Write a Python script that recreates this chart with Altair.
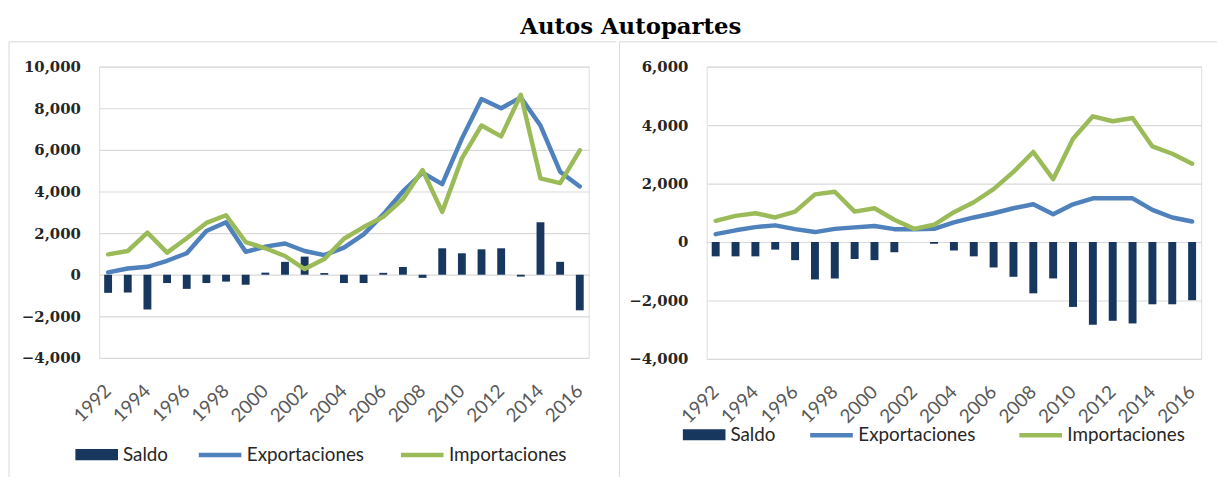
import altair as alt
import pandas as pd

years = [str(y) for y in range(1992, 2017)]
tick_years = [str(y) for y in range(1992, 2017, 2)]
series_names = ["Saldo", "Exportaciones", "Importaciones"]

left_saldo = [-870, -860, -1670, -400, -680, -400, -330, -480, 100, 620, 870, 80, -400,
              -400, 90, 370, -150, 1270, 1030, 1220, 1270, -90, 2520, 620, -1710]
left_exp = [110, 300, 380, 670, 1030, 2100, 2520, 1100, 1350, 1500, 1140, 940, 1300,
            1940, 2900, 4000, 4900, 4350, 6540, 8440, 8000, 8520, 7170, 4950, 4240]
left_imp = [980, 1140, 2020, 1060, 1750, 2490, 2860, 1570, 1270, 900, 270, 750, 1730,
            2290, 2780, 3630, 5030, 3020, 5590, 7170, 6650, 8650, 4630, 4400, 5980]

right_saldo = [-490, -490, -490, -260, -620, -1280, -1245, -580, -620, -350, 0, -60, -290,
               -490, -870, -1190, -1755, -1245, -2220, -2830, -2695, -2785, -2130, -2130, -1990]
right_exp = [270, 400, 510, 570, 440, 340, 450, 500, 550, 440, 440, 450, 670,
             840, 985, 1155, 1290, 950, 1290, 1495, 1495, 1495, 1100, 840, 700]
right_imp = [725, 895, 985, 840, 1040, 1630, 1720, 1040, 1155, 760, 450, 590, 1020,
             1360, 1810, 2400, 3080, 2150, 3530, 4300, 4130, 4240, 3270, 3020, 2680]

left_ticks = [-4000, -2000, 0, 2000, 4000, 6000, 8000, 10000]
right_ticks = [-4000, -2000, 0, 2000, 4000, 6000]

NAVY = "#17375E"
BLUE = "#4F81BD"
GREEN = "#9BBB59"
GRID = "#D9D9D9"
FRAME = "#D9D9D9"


def panel(saldo, exp, imp, ticks, w, h, frame_left, frame_right, legend_y, leg2_x, col_pad):
    bars_df = pd.DataFrame({"year": years, "value": saldo, "serie": series_names[0]})
    lines_df = pd.concat([
        pd.DataFrame({"year": years, "value": exp, "serie": series_names[1]}),
        pd.DataFrame({"year": years, "value": imp, "serie": series_names[2]}),
    ])
    x = alt.X(
        "year:O",
        title=None,
        scale=alt.Scale(paddingInner=0.6, paddingOuter=0.255),
        axis=alt.Axis(
            values=tick_years, labelAngle=315, labelAlign="right", labelBaseline="middle",
            labelFont="Lato", labelFontSize=19, labelColor="#595959", labelPadding=30,
            domain=False, ticks=False, tickSize=0, grid=False,
        ),
    )
    y = alt.Y(
        "value:Q",
        title=None,
        scale=alt.Scale(domain=[ticks[0], ticks[-1]], nice=False, zero=False),
        axis=alt.Axis(
            values=ticks, format=",.0f", labelFont="DejaVu Serif", labelFontWeight="bold",
            labelFontSize=15, labelColor="#262626", labelPadding=19, domain=False,
            ticks=False, tickSize=0, grid=True, gridColor=GRID, gridWidth=1.2,
        ),
    )
    one = alt.Data(values=[{}])
    rules = [
        alt.Chart(one).mark_rule(color=FRAME, strokeWidth=1).encode(
            x=alt.value(frame_left), y=alt.value(-25), y2=alt.value(414)),
        alt.Chart(one).mark_rule(color=FRAME, strokeWidth=1).encode(
            x=alt.value(frame_left), x2=alt.value(frame_right), y=alt.value(-25)),
    ]
    bars = alt.Chart(bars_df).mark_bar().encode(
        x=x, y=y,
        fill=alt.Fill("serie:N", scale=alt.Scale(domain=[series_names[0]], range=[NAVY]),
                      legend=alt.Legend(
                          title=None, orient="none", legendX=-24, legendY=legend_y + 2,
                          direction="horizontal", symbolType="M-1,-0.26H1V0.26H-1Z",
                          symbolSize=1849, symbolStrokeWidth=0, labelFont="Lato",
                          labelFontSize=19, labelColor="#262626", labelOffset=5, padding=0)),
    )
    lines = alt.Chart(lines_df).mark_line(strokeWidth=4.5, strokeCap="round", strokeJoin="round").encode(
        x=x, y=y,
        stroke=alt.Stroke("serie:N", scale=alt.Scale(domain=series_names[1:], range=[BLUE, GREEN]),
                          legend=alt.Legend(
                              title=None, orient="none", legendX=leg2_x, legendY=legend_y,
                              direction="horizontal", symbolType="stroke", symbolSize=1849,
                              symbolStrokeWidth=4.5, labelFont="Lato", labelFontSize=19,
                              labelColor="#262626", labelOffset=3, columnPadding=col_pad,
                              padding=0)),
    )
    return alt.layer(*rules, bars, lines).resolve_scale(
        fill="independent", stroke="independent").properties(width=w, height=h)


left = panel(left_saldo, left_exp, left_imp, left_ticks, 494, 294, -91, 522, 368, 98, 27)
right = panel(right_saldo, right_exp, right_imp, right_ticks, 499, 295, -88, 515, 348, 102, 34)

chart = alt.hconcat(left, right, spacing=1).resolve_scale(
    fill="independent", stroke="independent", y="independent"
).resolve_legend(fill="independent", stroke="independent").properties(
    title=alt.Title("Autos Autopartes", font="DejaVu Serif", fontSize=23, fontWeight="bold",
                    color="#000000", offset=2, anchor="middle", dx=18),
    padding={"left": 0, "top": 6, "right": 0, "bottom": 0},
).configure_view(stroke=None).configure(background="white")

chart.save("out.html", embed_options={"renderer": "svg", "actions": False})
